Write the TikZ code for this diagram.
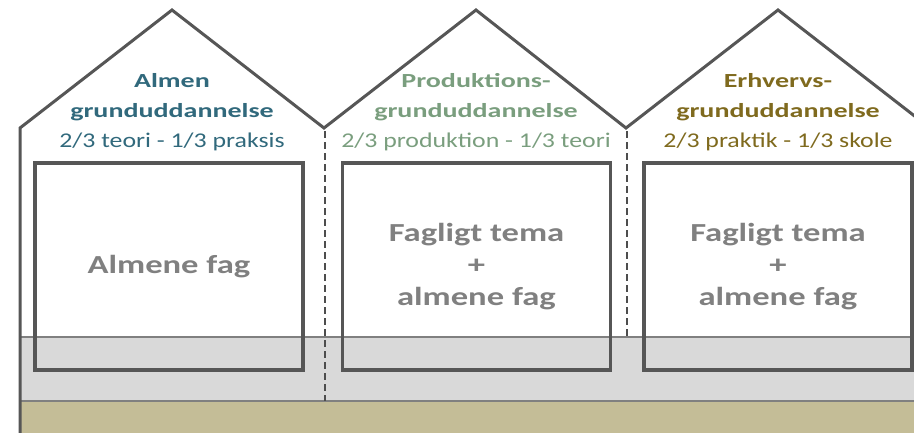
\documentclass[tikz,border=0pt]{standalone}
\usepackage{fontspec}
\setmainfont{Carlito}
\newfontfamily\titlefont[FakeStretch=1.4]{Carlito}
\newfontfamily\subfont[FakeStretch=1.23]{Carlito}
\newfontfamily\fagfont[FakeStretch=1.33]{Carlito}
\definecolor{almen}{HTML}{31697C}
\definecolor{prod}{HTML}{7A9E7E}
\definecolor{erhverv}{HTML}{7F6A1E}
\definecolor{wall}{HTML}{565656}
\definecolor{band}{HTML}{D9D9D9}
\definecolor{ground}{HTML}{C4BD97}
\definecolor{fagtext}{HTML}{808080}

\begin{document}
\begin{tikzpicture}[x=1pt,y=-1pt,
	fagbox/.style={draw=wall, line width=3.5pt, minimum width=268pt, minimum height=207pt, inner sep=0pt, align=center, text=fagtext, font=\fagfont\bfseries\fontsize{26}{32}\selectfont},
	husnavn/.style={align=center, font=\fontsize{20}{30}\selectfont},
	skel/.style={draw=wall!90!black, line width=1.6pt, dash pattern=on 7pt off 4pt}]
	\useasboundingbox (0,0) rectangle (914,432);
	\clip (0,0) rectangle (914,432);
	
	\fill[band] (21,337) rectangle (920,401);
	\fill[ground] (21,401) rectangle (920,440);
	\draw[fagtext, line width=1.5pt] (21,337) -- (920,337);
	\draw[fagtext, line width=1.5pt] (21,401) -- (920,401);
	
	\draw[skel] (325,131) -- (325,401);
	\draw[skel] (627,131) -- (627,337);
	
	\node[fagbox] (almfag) at (169,266.5) {Almene fag};
	\node[fagbox] (prodfag) at (476.5,266.5) {Fagligt tema\\+\\almene fag};
	\node[fagbox] (erhvfag) at (778,266.5) {Fagligt tema\\+\\almene fag};
	
	\draw[wall, line width=3pt, line join=miter] (20,440) -- (20,128) -- (172,10) -- (324,128) -- (476,10) -- (626,128) -- (778,10) -- (930,128);
	
	\node[husnavn] (almen) at (172,112) {\color{almen}\titlefont\bfseries Almen\\\color{almen}\titlefont\bfseries grunduddannelse\\\color{almen}\subfont\fontsize{21}{30}\selectfont 2/3 teori - 1/3 praksis};
	\node[husnavn] (prod) at (476,112) {\color{prod}\titlefont\bfseries Produktions-\\\color{prod}\titlefont\bfseries grunduddannelse\\\color{prod}\subfont\fontsize{21}{30}\selectfont 2/3 produktion - 1/3 teori};
	\node[husnavn] (erhv) at (778,112) {\color{erhverv}\titlefont\bfseries Erhvervs-\\\color{erhverv}\titlefont\bfseries grunduddannelse\\\color{erhverv}\subfont\fontsize{21}{30}\selectfont 2/3 praktik - 1/3 skole};
\end{tikzpicture}
\end{document}
